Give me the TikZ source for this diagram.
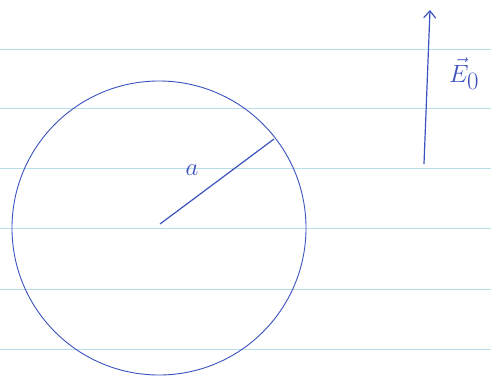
\documentclass[tikz,border=0pt]{standalone}
\usetikzlibrary{arrows.meta}
\definecolor{pen}{RGB}{60,82,190}
\definecolor{rule}{RGB}{185,222,235}
\begin{document}
\begin{tikzpicture}[x=1pt,y=-1pt,
  penline/.style={draw=pen,line width=1.2pt},
  ruleline/.style={draw=rule,line width=0.8pt},
  lbl/.style={text=pen,inner sep=0pt,font=\fontsize{28}{30}\selectfont}]
\fill[white] (0,0) rectangle (491,376);
\useasboundingbox (0,0) rectangle (491,376);
\foreach \y in {49,108.5,168,228.5,289,349}
  \draw[ruleline] (0,\y) -- (491,\y);
\node[draw=pen,line width=0.9pt,circle,minimum size=294pt,inner sep=0pt] (c) at (159,228) {};
\coordinate (o) at (160,224);
\coordinate (r) at (274,139);
\draw[penline] (o) -- (r);
\node[lbl] (a) at (192,170) {$a$};
\coordinate (t) at (424,164);
\coordinate (h) at (430,10);
\draw[penline,-{Straight Barb[length=7pt,width=12pt]}] (t) -- (h);
\node[lbl,font=\fontsize{34}{36}\selectfont] (E) at (464,74) {$\vec{E}_{0}$};
\end{tikzpicture}
\end{document}
